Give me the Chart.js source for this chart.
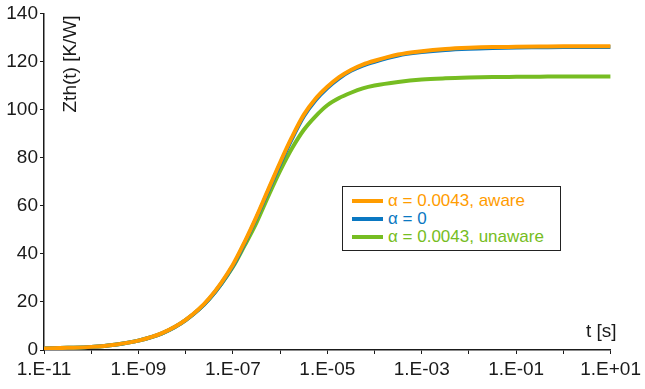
<!DOCTYPE html>
<html>
<head>
<meta charset="utf-8">
<script src="https://cdn.jsdelivr.net/npm/chart.js@4/dist/chart.umd.min.js"></script>
<style>
  body { margin: 0; background: #fff; }
  #wrap { position: relative; width: 645px; height: 389px; }
  #legend {
    position: absolute; left: 342px; top: 186px; width: 219px; height: 65px;
    border: 1.5px solid #222; background: #fff;
    font: 17px "Liberation Sans", Arial, sans-serif; padding-top: 5px; box-sizing: border-box;
  }
  #legend div { height: 18px; line-height: 18px; white-space: nowrap; }
  #legend span.sw { display: inline-block; width: 31px; height: 4px; vertical-align: middle; margin: 0 5px 0 9px; position: relative; top: -1px; }
</style>
</head>
<body>
<div id="wrap">
  <canvas id="zth"></canvas>
  <div id="legend"></div>
</div>
<script>
// time points, as log10(t [s])
const logT = [
  -11, -10.5, -10, -9.5, -9, -8.5, -8, -7.5, -7, -6.75, -6.5, -6.25, -6,
  -5.75, -5.5, -5.25, -5, -4.75, -4.5, -4.25, -4, -3.5, -3, -2.5, -2,
  -1.5, -1, -0.5, 0, 0.5, 1,
];

// Zth(t) [K/W]
const zthAware = [
  0.6, 0.9, 1.3, 2.2, 3.9, 7.0, 12.5, 21.5, 35.5, 45.0, 55.5, 66.8, 78.0,
  88.5, 97.8, 104.5, 109.5, 113.5, 116.5, 118.7, 120.3, 122.9, 124.3, 125.2, 125.7,
  126.0, 126.1, 126.2, 126.3, 126.3, 126.3,
];
const zthZero = [
  0.6, 0.9, 1.3, 2.2, 3.9, 6.9, 12.4, 21.2, 35.0, 44.5, 55.0, 66.2, 77.3,
  87.8, 97.1, 103.9, 109.0, 113.0, 116.1, 118.3, 119.9, 122.5, 123.9, 124.8, 125.3,
  125.6, 125.8, 125.9, 126.0, 126.0, 126.0,
];
const zthUnaware = [
  0.6, 0.9, 1.3, 2.2, 3.9, 6.9, 12.4, 21.2, 34.5, 43.5, 53.0, 64.0, 74.5,
  83.8, 91.5, 97.2, 101.8, 104.8, 107.0, 108.8, 110.0, 111.5, 112.5, 113.0, 113.3,
  113.5, 113.6, 113.7, 113.8, 113.8, 113.8,
];

const seriesNames = ["\u03b1 = 0.0043, aware", "\u03b1 = 0", "\u03b1 = 0.0043, unaware"];
const seriesColors = ["#ff9c00", "#0a78c2", "#76bd22"];

const yTicks = [0, 20, 40, 60, 80, 100, 120, 140];

const fontFam = '"Liberation Sans", Arial, sans-serif';
const ink = "#1a1a1a";

function points(vals) {
  return logT.map((e, i) => ({ x: Math.pow(10, e), y: vals[i] }));
}

function tickLabel(v) {
  const e = Math.round(Math.log10(v));
  if ((e + 11) % 2 !== 0) return "";
  const s = e < 0 ? "-" : "+";
  return "1.E" + s + String(Math.abs(e)).padStart(2, "0");
}

const axisText = {
  id: "axisText",
  afterDraw(chart) {
    const ctx = chart.ctx, ca = chart.chartArea;
    ctx.save();
    ctx.fillStyle = ink;
    ctx.font = "19px " + fontFam;
    ctx.textAlign = "right";
    ctx.textBaseline = "alphabetic";
    ctx.fillText("t [s]", ca.right + 6, ca.bottom - 13);
    ctx.translate(ca.left + 32, ca.top + 2);
    ctx.rotate(-Math.PI / 2);
    ctx.fillText("Zth(t) [K/W]", 0, 0);
    ctx.restore();
  },
};

const ctx = document.getElementById("zth").getContext("2d");

const chart = new Chart(ctx, {
  type: "line",
  data: {
    datasets: [zthAware, zthZero, zthUnaware].map((vals, i) => ({
      label: seriesNames[i],
      data: points(vals),
      borderColor: seriesColors[i],
      backgroundColor: seriesColors[i],
      borderWidth: 4,
      pointRadius: 0,
      cubicInterpolationMode: "monotone",
      fill: false,
    })),
  },
  options: {
    responsive: true,
    maintainAspectRatio: false,
    animation: false,
    layout: { padding: { top: 13, right: 30, left: 0, bottom: 0 } },
    plugins: {
      legend: { display: false },
      tooltip: { enabled: false },
    },
    scales: {
      x: {
        type: "logarithmic",
        min: 1e-11,
        max: 1e1,
        afterBuildTicks(scale) {
          const t = [];
          for (let e = -11; e <= 1; e++) t.push({ value: Math.pow(10, e) });
          scale.ticks = t;
        },
        afterFit(scale) { scale.height = 39; },
        grid: { drawOnChartArea: false, drawTicks: true, tickLength: 4, color: ink },
        border: { display: true, color: ink, width: 1.5 },
        ticks: {
          autoSkip: false,
          maxRotation: 0,
          padding: 4,
          color: ink,
          font: { family: fontFam, size: 19 },
          callback: (v) => tickLabel(v),
        },
      },
      y: {
        min: 0,
        max: 140,
        afterBuildTicks(scale) { scale.ticks = yTicks.map((v) => ({ value: v })); },
        afterFit(scale) { scale.width = 44; },
        grid: { drawOnChartArea: false, drawTicks: true, tickLength: 4, color: ink },
        border: { display: true, color: ink, width: 1.5 },
        ticks: {
          padding: 2,
          color: ink,
          font: { family: fontFam, size: 19 },
        },
      },
    },
  },
  plugins: [axisText],
});

// legend box, built from the datasets
const leg = document.getElementById("legend");
chart.data.datasets.forEach((ds) => {
  const row = document.createElement("div");
  row.style.color = ds.borderColor;
  const sw = document.createElement("span");
  sw.className = "sw";
  sw.style.background = ds.borderColor;
  row.appendChild(sw);
  row.appendChild(document.createTextNode(ds.label));
  leg.appendChild(row);
});
</script>
</body>
</html>
